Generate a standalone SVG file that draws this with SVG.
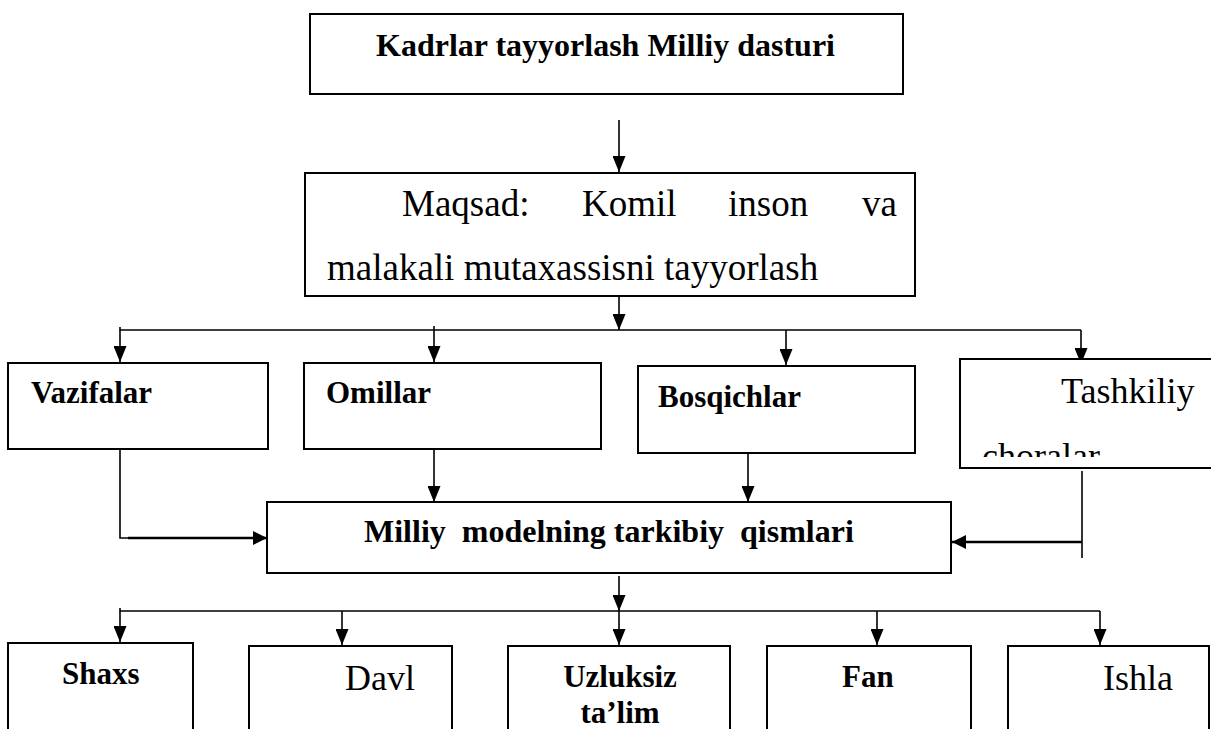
<svg xmlns="http://www.w3.org/2000/svg" width="1211" height="729" viewBox="0 0 1211 729">
<style>
.box{fill:#fff;stroke:#000;stroke-width:2}
.b{font-family:"Liberation Serif","Times New Roman",serif;font-weight:bold;font-size:31px;fill:#000}
.r{font-family:"Liberation Serif","Times New Roman",serif;font-size:36px;fill:#000}
.ln{fill:none;stroke:#000;stroke-width:1.6}
.lt{fill:none;stroke:#000;stroke-width:2.6}
</style>
<defs>
<marker id="ah" markerUnits="userSpaceOnUse" markerWidth="16" markerHeight="13" refX="16" refY="6.5" orient="auto" viewBox="0 0 16 13">
<path d="M0,0 L16,6.5 L0,13 Z" fill="#000"/>
</marker>
<marker id="ah2" markerUnits="userSpaceOnUse" markerWidth="14" markerHeight="14" refX="14" refY="7" orient="auto" viewBox="0 0 14 14">
<path d="M0,0 L14,7 L0,14 Z" fill="#000"/>
</marker>
<clipPath id="clipT"><rect x="960" y="359" width="260" height="98"/></clipPath>
</defs>

<g id="connectors">
<line class="ln" x1="619" y1="120" x2="619" y2="172" marker-end="url(#ah)"/>
<line class="ln" x1="619" y1="297" x2="619" y2="330" marker-end="url(#ah)"/>
<polyline class="ln" points="120,327 120,330 1081,330"/>
<line class="ln" x1="434" y1="326" x2="434" y2="330"/>
<line class="ln" x1="120" y1="330" x2="120" y2="362" marker-end="url(#ah)"/>
<line class="ln" x1="434" y1="330" x2="434" y2="362" marker-end="url(#ah)"/>
<line class="ln" x1="786" y1="330" x2="786" y2="365" marker-end="url(#ah)"/>
<line class="ln" x1="1081" y1="330" x2="1081" y2="364" marker-end="url(#ah)"/>
<polyline class="ln" points="120,449 120,538 130,538"/>
<line class="lt" x1="128" y1="538" x2="267" y2="538" marker-end="url(#ah2)"/>
<line class="ln" x1="434" y1="449" x2="434" y2="502" marker-end="url(#ah)"/>
<line class="ln" x1="748" y1="450" x2="748" y2="502" marker-end="url(#ah)"/>
<line class="ln" x1="1082" y1="471" x2="1082" y2="558"/>
<line class="lt" x1="1082" y1="542" x2="952" y2="542" marker-end="url(#ah2)"/>
<line class="ln" x1="619" y1="576" x2="619" y2="611" marker-end="url(#ah)"/>
<polyline class="ln" points="120,608 120,611 1100,611"/>
<line class="ln" x1="120" y1="611" x2="120" y2="642" marker-end="url(#ah)"/>
<line class="ln" x1="342" y1="611" x2="342" y2="645" marker-end="url(#ah)"/>
<line class="ln" x1="619" y1="611" x2="619" y2="645" marker-end="url(#ah)"/>
<line class="ln" x1="877" y1="611" x2="877" y2="645" marker-end="url(#ah)"/>
<line class="ln" x1="1100" y1="611" x2="1100" y2="645" marker-end="url(#ah)"/>
</g>

<g id="node-kadrlar">
<rect class="box" x="310" y="14" width="593" height="80"/>
<text class="b" x="376" y="56" style="font-size:32px">Kadrlar tayyorlash Milliy dasturi</text>
</g>

<g id="node-maqsad">
<rect class="box" x="305" y="173" width="610" height="123"/>
<text class="r" y="216" style="font-size:37px"><tspan x="402">Maqsad:</tspan><tspan x="582">Komil</tspan><tspan x="728">inson</tspan><tspan x="862">va</tspan></text>
<text class="r" x="327" y="280" style="font-size:37px">malakali mutaxassisni tayyorlash</text>
</g>

<g id="node-vazifalar">
<rect class="box" x="8" y="363" width="260" height="86"/>
<text class="b" x="31" y="403">Vazifalar</text>
</g>

<g id="node-omillar">
<rect class="box" x="304" y="363" width="297" height="86"/>
<text class="b" x="326" y="403">Omillar</text>
</g>

<g id="node-bosqichlar">
<rect class="box" x="638" y="366" width="277" height="87"/>
<text class="b" x="658" y="407">Bosqichlar</text>
</g>

<g id="node-tashkiliy">
<rect class="box" x="960" y="359" width="260" height="109"/>
<text class="r" x="1061" y="403">Tashkiliy</text>
<text class="r" x="982" y="468" clip-path="url(#clipT)">choralar</text>
</g>

<g id="node-milliy">
<rect class="box" x="267" y="502" width="684" height="71"/>
<text class="b" x="364" y="542" style="font-size:32px" xml:space="preserve">Milliy  modelning tarkibiy  qismlari</text>
</g>

<g id="node-shaxs">
<rect class="box" x="8" y="643" width="185" height="100"/>
<text class="b" x="62" y="684">Shaxs</text>
</g>

<g id="node-davl">
<rect class="box" x="249" y="646" width="203" height="100"/>
<text class="r" x="345" y="690">Davl</text>
</g>

<g id="node-uzluksiz">
<rect class="box" x="508" y="646" width="222" height="100"/>
<text class="b" x="620" y="687" text-anchor="middle">Uzluksiz</text>
<text class="b" x="620" y="723" text-anchor="middle">ta’lim</text>
</g>

<g id="node-fan">
<rect class="box" x="767" y="646" width="204" height="100"/>
<text class="b" x="842" y="687">Fan</text>
</g>

<g id="node-ishla">
<rect class="box" x="1008" y="646" width="201" height="100"/>
<text class="r" x="1103" y="690">Ishla</text>
</g>
</svg>
